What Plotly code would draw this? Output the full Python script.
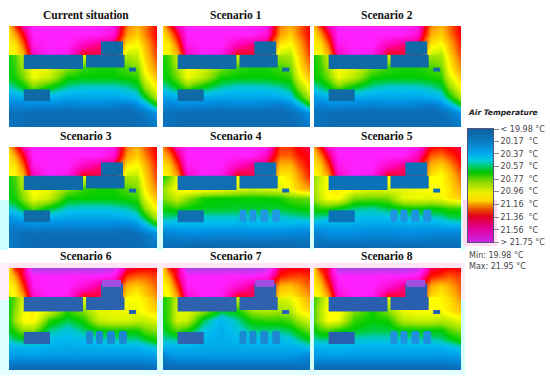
import plotly.graph_objects as go

# Panel grid (site coordinates): columns west-east, rows north-south
GRID_X = [0, 6, 14, 24, 40, 58, 74, 90, 104, 118, 128, 136, 148]
GRID_Y = [0, 8, 18, 28, 29, 42, 52, 62, 72, 80, 88, 102]

current = [
 [21.10,21.30,21.55,21.75,21.75,21.75,21.75,21.75,21.70,21.20,21.10,21.20,21.40],
 [21.00,21.15,21.40,21.75,21.75,21.75,21.75,21.75,21.65,21.15,21.05,21.20,21.40],
 [20.98,21.00,21.25,21.70,21.75,21.75,21.60,21.50,21.45,21.00,20.95,21.10,21.35],
 [20.95,20.97,21.10,21.60,21.75,21.70,21.40,21.45,21.40,20.85,20.85,21.05,21.30],
 [20.62,20.68,20.85,20.90,20.90,20.90,20.90,20.85,20.85,20.80,20.85,21.05,21.30],
 [20.60,20.65,20.78,20.95,20.90,20.75,20.65,20.62,20.62,20.68,20.72,20.98,21.20],
 [20.60,20.62,20.72,20.92,20.85,20.62,20.60,20.60,20.60,20.62,20.65,20.90,21.10],
 [20.48,20.52,20.58,20.72,20.60,20.50,20.47,20.47,20.47,20.50,20.55,20.76,20.98],
 [20.33,20.36,20.40,20.42,20.40,20.36,20.36,20.36,20.36,20.38,20.43,20.58,20.82],
 [20.26,20.24,20.26,20.27,20.27,20.24,20.26,20.26,20.24,20.21,20.27,20.38,20.60],
 [20.15,20.18,20.15,20.12,20.12,20.12,20.12,20.12,20.12,20.12,20.15,20.20,20.30],
 [20.20,20.15,20.12,20.10,20.10,20.10,20.10,20.10,20.10,20.10,20.12,20.15,20.20],
]
scenario_1 = [
 [21.10,21.30,21.55,21.75,21.75,21.75,21.75,21.75,21.70,21.20,21.12,21.22,21.40],
 [21.00,21.15,21.40,21.75,21.75,21.75,21.75,21.75,21.65,21.15,21.05,21.20,21.40],
 [20.98,21.00,21.25,21.70,21.75,21.75,21.58,21.50,21.45,21.00,20.95,21.10,21.35],
 [20.95,20.97,21.10,21.60,21.75,21.70,21.40,21.42,21.40,20.85,20.82,21.05,21.30],
 [20.62,20.68,20.85,20.90,20.90,20.90,20.90,20.85,20.85,20.78,20.80,21.02,21.30],
 [20.60,20.65,20.78,20.95,20.88,20.72,20.65,20.62,20.62,20.66,20.70,20.96,21.20],
 [20.60,20.62,20.72,20.92,20.82,20.62,20.60,20.60,20.60,20.62,20.64,20.88,21.10],
 [20.48,20.52,20.58,20.70,20.58,20.50,20.46,20.46,20.47,20.50,20.55,20.74,20.98],
 [20.33,20.36,20.40,20.42,20.38,20.36,20.36,20.36,20.36,20.38,20.43,20.58,20.82],
 [20.26,20.24,20.26,20.27,20.27,20.24,20.26,20.26,20.24,20.21,20.27,20.38,20.60],
 [20.15,20.18,20.15,20.12,20.12,20.12,20.12,20.12,20.12,20.12,20.15,20.20,20.30],
 [20.20,20.15,20.12,20.10,20.10,20.10,20.10,20.10,20.10,20.10,20.12,20.15,20.20],
]
scenario_2 = [
 [21.10,21.30,21.55,21.75,21.75,21.75,21.75,21.75,21.70,21.18,21.10,21.22,21.42],
 [21.00,21.15,21.40,21.75,21.75,21.75,21.75,21.75,21.65,21.12,21.05,21.20,21.40],
 [20.98,21.00,21.25,21.70,21.75,21.75,21.58,21.50,21.45,21.00,20.95,21.10,21.35],
 [20.95,20.97,21.10,21.60,21.75,21.70,21.40,21.42,21.40,20.85,20.82,21.05,21.30],
 [20.62,20.68,20.85,20.90,20.90,20.90,20.90,20.85,20.85,20.78,20.80,21.02,21.28],
 [20.60,20.65,20.78,20.95,20.88,20.72,20.65,20.62,20.62,20.66,20.70,20.96,21.18],
 [20.60,20.62,20.72,20.92,20.82,20.62,20.60,20.60,20.60,20.62,20.64,20.88,21.08],
 [20.48,20.52,20.58,20.70,20.58,20.50,20.46,20.46,20.47,20.50,20.55,20.74,20.96],
 [20.33,20.36,20.40,20.42,20.38,20.36,20.36,20.36,20.36,20.38,20.43,20.58,20.80],
 [20.26,20.24,20.26,20.27,20.27,20.24,20.26,20.26,20.24,20.21,20.27,20.38,20.58],
 [20.15,20.18,20.15,20.12,20.12,20.12,20.12,20.12,20.12,20.12,20.15,20.20,20.30],
 [20.20,20.15,20.12,20.10,20.10,20.10,20.10,20.10,20.10,20.10,20.12,20.15,20.20],
]
scenario_3 = [
 [21.10,21.30,21.55,21.75,21.75,21.75,21.75,21.75,21.70,21.20,21.10,21.25,21.42],
 [21.00,21.15,21.40,21.75,21.75,21.75,21.75,21.75,21.65,21.15,21.05,21.20,21.40],
 [20.98,21.00,21.25,21.70,21.75,21.75,21.60,21.50,21.45,21.00,20.95,21.10,21.35],
 [20.95,20.97,21.10,21.60,21.75,21.70,21.40,21.45,21.40,20.85,20.85,21.05,21.30],
 [20.62,20.68,20.85,20.90,20.90,20.90,20.90,20.85,20.85,20.80,20.82,21.05,21.30],
 [20.60,20.65,20.80,20.95,20.92,20.75,20.65,20.62,20.62,20.68,20.72,20.98,21.20],
 [20.60,20.62,20.74,20.92,20.85,20.60,20.60,20.60,20.60,20.62,20.65,20.90,21.10],
 [20.46,20.50,20.58,20.70,20.58,20.48,20.46,20.46,20.47,20.50,20.55,20.76,20.98],
 [20.30,20.33,20.38,20.40,20.38,20.35,20.35,20.35,20.35,20.38,20.43,20.56,20.80],
 [20.24,20.22,20.25,20.27,20.26,20.25,20.26,20.26,20.25,20.22,20.28,20.38,20.55],
 [20.18,20.18,20.15,20.13,20.12,20.12,20.12,20.12,20.12,20.12,20.15,20.20,20.28],
 [20.22,20.18,20.12,20.10,20.10,20.10,20.10,20.10,20.10,20.10,20.12,20.15,20.18],
]
scenario_4 = [
 [21.20,21.35,21.60,21.75,21.75,21.75,21.75,21.75,21.70,21.30,21.30,21.40,21.45],
 [21.10,21.20,21.45,21.75,21.75,21.75,21.75,21.75,21.60,21.25,21.25,21.35,21.42],
 [21.00,21.05,21.30,21.70,21.75,21.75,21.60,21.50,21.45,21.10,21.10,21.25,21.40],
 [20.97,21.00,21.15,21.60,21.75,21.70,21.40,21.45,21.40,21.00,21.00,21.15,21.35],
 [20.62,20.70,20.90,20.95,20.95,20.95,20.95,20.92,20.92,20.95,21.00,21.15,21.35],
 [20.75,20.85,20.95,21.00,20.98,20.95,20.90,20.85,20.88,20.90,20.95,21.05,21.15],
 [20.72,20.78,20.85,20.75,20.62,20.60,20.60,20.60,20.60,20.62,20.68,20.70,20.70],
 [20.62,20.62,20.65,20.60,20.58,20.58,20.57,20.57,20.57,20.57,20.58,20.60,20.62],
 [20.50,20.50,20.48,20.47,20.46,20.46,20.46,20.46,20.46,20.46,20.47,20.48,20.50],
 [20.36,20.37,20.38,20.38,20.38,20.38,20.36,20.38,20.38,20.38,20.37,20.36,20.36],
 [20.22,20.24,20.26,20.28,20.27,20.26,20.26,20.27,20.27,20.26,20.26,20.24,20.22],
 [20.15,20.12,20.10,20.08,20.08,20.08,20.08,20.08,20.08,20.08,20.08,20.10,20.14],
]
scenario_5 = [
 [21.15,21.35,21.60,21.75,21.75,21.75,21.75,21.75,21.70,21.38,21.35,21.40,21.45],
 [21.05,21.20,21.45,21.75,21.75,21.75,21.75,21.75,21.60,21.25,21.22,21.30,21.42],
 [21.00,21.05,21.30,21.70,21.75,21.75,21.62,21.50,21.45,21.10,21.05,21.15,21.35],
 [20.95,21.00,21.15,21.60,21.75,21.70,21.40,21.45,21.40,21.00,20.95,21.05,21.25],
 [20.75,20.85,20.95,20.95,20.95,20.95,20.95,20.92,20.92,20.95,20.95,21.05,21.25],
 [20.78,20.88,20.95,21.00,20.95,20.90,20.90,20.90,20.92,20.95,20.95,21.00,21.15],
 [20.75,20.85,20.95,20.95,20.72,20.70,20.72,20.90,20.92,20.90,20.92,21.00,21.05],
 [20.62,20.65,20.65,20.60,20.52,20.50,20.55,20.60,20.62,20.60,20.62,20.65,20.65],
 [20.50,20.48,20.46,20.44,20.42,20.42,20.42,20.45,20.46,20.46,20.48,20.52,20.55],
 [20.35,20.35,20.35,20.36,20.35,20.34,20.34,20.35,20.35,20.35,20.36,20.38,20.38],
 [20.24,20.24,20.28,20.28,20.28,20.26,20.26,20.28,20.28,20.26,20.25,20.24,20.24],
 [20.14,20.12,20.10,20.10,20.10,20.10,20.10,20.10,20.10,20.10,20.10,20.12,20.14],
]
scenario_6 = [
 [21.05,21.35,21.45,21.95,21.95,21.95,21.95,21.95,21.90,21.45,21.40,21.38,21.40],
 [21.00,21.15,21.45,21.75,21.75,21.75,21.75,21.75,21.70,21.30,21.25,21.25,21.30],
 [20.95,21.02,21.30,21.72,21.75,21.75,21.65,21.50,21.50,21.10,21.05,21.12,21.25],
 [20.90,20.96,21.15,21.62,21.75,21.72,21.40,21.45,21.45,21.00,20.95,21.05,21.18],
 [20.62,20.70,20.90,20.95,20.92,20.90,20.92,20.90,20.90,20.95,20.95,21.00,21.15],
 [20.62,20.75,20.92,20.98,20.90,20.65,20.75,20.90,20.92,20.92,20.92,20.98,21.05],
 [20.62,20.78,20.95,20.98,20.65,20.55,20.62,20.85,20.88,20.88,20.85,20.85,20.90],
 [20.58,20.65,20.75,20.75,20.52,20.45,20.52,20.60,20.62,20.62,20.62,20.70,20.75],
 [20.48,20.52,20.55,20.52,20.42,20.40,20.42,20.46,20.48,20.50,20.50,20.55,20.62],
 [20.38,20.38,20.40,20.40,20.38,20.37,20.37,20.38,20.38,20.38,20.38,20.40,20.45],
 [20.33,20.33,20.33,20.33,20.33,20.32,20.32,20.32,20.32,20.32,20.32,20.33,20.33],
 [20.12,20.08,20.08,20.08,20.08,20.08,20.08,20.08,20.08,20.08,20.08,20.10,20.14],
]
scenario_7 = [
 [21.05,21.35,21.45,21.95,21.95,21.95,21.95,21.95,21.90,21.45,21.40,21.40,21.42],
 [21.00,21.15,21.45,21.75,21.75,21.75,21.75,21.75,21.70,21.35,21.30,21.28,21.32],
 [20.95,21.02,21.30,21.72,21.75,21.75,21.65,21.50,21.50,21.10,21.08,21.15,21.25],
 [20.90,20.96,21.15,21.62,21.75,21.72,21.40,21.45,21.45,21.00,20.98,21.05,21.18],
 [20.62,20.68,20.85,20.92,20.90,20.90,20.88,20.85,20.85,20.88,20.92,21.00,21.15],
 [20.62,20.68,20.88,20.92,20.78,20.58,20.62,20.78,20.82,20.78,20.80,20.95,21.05],
 [20.60,20.68,20.88,20.85,20.55,20.40,20.50,20.62,20.65,20.65,20.68,20.78,20.88],
 [20.56,20.62,20.68,20.62,20.45,20.38,20.45,20.52,20.52,20.52,20.55,20.62,20.72],
 [20.48,20.48,20.50,20.48,20.40,20.38,20.40,20.42,20.42,20.42,20.44,20.50,20.58],
 [20.38,20.38,20.38,20.38,20.37,20.37,20.37,20.37,20.37,20.37,20.37,20.38,20.42],
 [20.22,20.30,20.32,20.32,20.32,20.32,20.32,20.32,20.32,20.32,20.32,20.30,20.24],
 [20.12,20.08,20.08,20.08,20.08,20.08,20.08,20.08,20.08,20.08,20.08,20.10,20.14],
]
scenario_8 = [
 [21.05,21.35,21.45,21.95,21.95,21.95,21.95,21.95,21.90,21.45,21.42,21.38,21.40],
 [21.02,21.18,21.45,21.75,21.75,21.75,21.75,21.75,21.70,21.35,21.30,21.25,21.30],
 [20.98,21.05,21.30,21.72,21.75,21.75,21.65,21.50,21.50,21.12,21.05,21.12,21.25],
 [20.92,20.98,21.15,21.62,21.75,21.72,21.40,21.45,21.45,21.02,20.98,21.05,21.20],
 [20.65,20.75,20.92,20.98,20.95,20.92,20.92,20.92,20.92,20.95,20.97,21.02,21.18],
 [20.68,20.82,20.95,20.98,20.75,20.62,20.75,20.92,20.95,20.95,20.95,21.00,21.08],
 [20.68,20.80,20.95,20.92,20.65,20.60,20.62,20.82,20.85,20.85,20.82,20.85,20.92],
 [20.60,20.65,20.68,20.62,20.58,20.55,20.55,20.60,20.60,20.60,20.60,20.68,20.75],
 [20.48,20.50,20.50,20.48,20.46,20.46,20.46,20.46,20.48,20.48,20.50,20.55,20.62],
 [20.38,20.38,20.40,20.40,20.38,20.38,20.38,20.38,20.38,20.38,20.38,20.40,20.45],
 [20.33,20.33,20.33,20.33,20.33,20.33,20.33,20.33,20.33,20.33,20.32,20.33,20.33],
 [20.12,20.08,20.08,20.08,20.08,20.08,20.08,20.08,20.08,20.08,20.08,20.10,20.14],
]

panel_titles = ["Current situation", "Scenario 1", "Scenario 2", "Scenario 3", "Scenario 4",
                "Scenario 5", "Scenario 6", "Scenario 7", "Scenario 8"]
panel_fields = [current, scenario_1, scenario_2, scenario_3, scenario_4,
                scenario_5, scenario_6, scenario_7, scenario_8]

# Footprints in site coordinates: x0, x1, y0, y1
buildings = [(14.7, 74, 29, 43.5), (77, 115.5, 29, 42), (92, 114, 15.5, 29),
             (120, 127, 42, 46), (14.7, 41, 64, 76)]
new_blocks = [(77, 84, 63, 76), (87, 94, 63, 76), (98, 106, 63, 76), (110, 118, 63, 76)]
roof_block = (93, 112, 12, 19)
building_colors = ["#0f6aa5", "#0f6aa5", "#0f6aa5", "#0f6aa8", "#0f6fb2",
                   "#0c72b8", "#2a62ae", "#2f62ae", "#2a5fb0"]
block_colors = [None, None, None, None, "#1e98e2", "#1e94e0", "#1a86d4", "#1a88d2", "#1e90e0"]

legend_ticks = [19.98, 20.17, 20.37, 20.57, 20.77, 20.96, 21.16, 21.36, 21.56, 21.75]
legend_labels = ["< 19.98 °C", "20.17\u00a0\u00a0°C", "20.37\u00a0\u00a0°C", "20.57\u00a0\u00a0°C",
                 "20.77\u00a0\u00a0°C", "20.96\u00a0\u00a0°C", "21.16\u00a0\u00a0°C", "21.36\u00a0\u00a0°C",
                 "21.56\u00a0\u00a0°C", "> 21.75 °C"]

# Layout in page pixels
W, H = 550, 385
col_px = [(9, 157), (163, 310), (314, 461)]
row_px = [(26, 127), (147, 248), (268, 370)]
title_x = [86, 236, 387]
title_y = [15, 136, 256]
cmin, cmax = 19.98, 21.95

# Pale compression halos around the pictures: x0, x1, y0, y1, colour (page pixels)
halos = [(0, 9, 200, 250, "#ccffff"), (157, 163, 200, 250, "#d8ffff"),
         (310, 314, 205, 250, "#d8ffff"), (461, 465, 205, 250, "#d8ffff"),
         (5, 465, 263, 268, "#ffe4f6"), (0, 9, 263, 300, "#fff0fa"), (157, 163, 263, 300, "#ffeef9"),
         (310, 314, 263, 300, "#ffeef9"), (461, 465, 263, 300, "#ffeef9"),
         (0, 9, 300, 375, "#dcffff"), (157, 163, 300, 372, "#d4ffff"),
         (310, 314, 300, 372, "#d4ffff"), (461, 465, 300, 372, "#d4ffff"),
         (0, 465, 370, 375, "#e4ffff"), (463, 497, 200, 246, "#ffdcf2")]


def cs(stops):
    return [[(t - cmin) / (cmax - cmin), c] for t, c in stops]


def rounded(x0, x1, y0, y1, r=2.2):
    return (f"M {x0 + r} {y0} L {x1 - r} {y0} Q {x1} {y0} {x1} {y0 + r} L {x1} {y1 - r} "
            f"Q {x1} {y1} {x1 - r} {y1} L {x0 + r} {y1} Q {x0} {y1} {x0} {y1 - r} "
            f"L {x0} {y0 + r} Q {x0} {y0} {x0 + r} {y0} Z")


panel_scale = cs([(19.98, "#0d5a9c"), (20.17, "#0a72bc"), (20.30, "#0090e4"), (20.42, "#00bcf0"),
                  (20.48, "#00c8c8"), (20.54, "#00cc50"), (20.60, "#00cc00"), (20.75, "#90e000"),
                  (20.95, "#ffff00"), (21.15, "#ffa000"), (21.38, "#ff0000"), (21.55, "#ff00b0"),
                  (21.75, "#ff20ff"), (21.95, "#b040e8")])
legend_scale = [[0.0, "#10609f"], [0.11, "#0a7cc4"], [0.21, "#00a8ee"], [0.27, "#00cce0"],
                [0.32, "#00cc70"], [0.38, "#00c400"], [0.47, "#90d800"], [0.56, "#f0f000"],
                [0.63, "#ffd800"], [0.67, "#f09000"], [0.72, "#e84000"], [0.77, "#e00020"],
                [0.88, "#e000a0"], [1.0, "#c828e8"]]

fig = go.Figure()
shapes, annotations, axes = [], [], {}

for hx0, hx1, hy0, hy1, hc in halos:
    shapes.append(dict(type="rect", xref="paper", yref="paper", x0=hx0 / W, x1=hx1 / W,
                       y0=1 - hy1 / H, y1=1 - hy0 / H, fillcolor=hc, line_width=0, layer="below"))

for i, (field, name) in enumerate(zip(panel_fields, panel_titles)):
    r, c = i // 3, i % 3
    n = i + 1
    sfx = "" if n == 1 else str(n)
    x0, x1 = col_px[c]
    y0, y1 = row_px[r]
    axes["xaxis" + sfx] = dict(domain=[x0 / W, x1 / W], range=[0, 148], visible=False,
                               anchor="y" + sfx, fixedrange=True)
    axes["yaxis" + sfx] = dict(domain=[1 - y1 / H, 1 - y0 / H], range=[102, 0], visible=False,
                               anchor="x" + sfx, fixedrange=True)
    fig.add_trace(go.Heatmap(x=GRID_X, y=GRID_Y, z=field, zmin=cmin, zmax=cmax, zsmooth="best",
                             colorscale=panel_scale, showscale=False, hoverinfo="skip",
                             xaxis="x" + sfx, yaxis="y" + sfx))
    for bx0, bx1, by0, by1 in buildings:
        shapes.append(dict(type="rect", xref="x" + sfx, yref="y" + sfx, x0=bx0, x1=bx1, y0=by0, y1=by1,
                           fillcolor=building_colors[i], line_width=0))
    if block_colors[i]:
        for bx0, bx1, by0, by1 in new_blocks:
            shapes.append(dict(type="path", xref="x" + sfx, yref="y" + sfx, path=rounded(bx0, bx1, by0, by1),
                               fillcolor=block_colors[i], line_width=0))
    if r == 2:
        bx0, bx1, by0, by1 = roof_block
        shapes.append(dict(type="rect", xref="x" + sfx, yref="y" + sfx, x0=bx0, x1=bx1, y0=by0, y1=by1,
                           fillcolor="#a050e0", line_width=0))
    annotations.append(dict(text="<b>%s</b>" % name, xref="paper", yref="paper", x=title_x[c] / W,
                            y=1 - title_y[r] / H, xanchor="center", yanchor="middle", showarrow=False,
                            font=dict(family="Liberation Serif", size=11.5, color="#111111")))

# Temperature legend: a heatmap on its own axis, low values on top
fig.add_trace(go.Heatmap(x=[0, 1], y=legend_ticks, z=[[t, t] for t in legend_ticks],
                         zmin=19.98, zmax=21.75, zsmooth="best", colorscale=legend_scale,
                         showscale=False, hoverinfo="skip", xaxis="x10", yaxis="y10"))
axes["xaxis10"] = dict(domain=[468 / W, 493 / W], range=[0, 1], anchor="y10", showticklabels=False,
                       ticks="", showgrid=False, zeroline=False, showline=True, mirror=True,
                       linecolor="#55557a", linewidth=1, fixedrange=True)
axes["yaxis10"] = dict(domain=[1 - 242 / H, 1 - 129 / H], range=[21.75, 19.98], anchor="x10", side="right",
                       tickvals=legend_ticks, ticktext=legend_labels, ticks="outside", ticklen=5,
                       tickcolor="#888888", tickwidth=1, showgrid=False, zeroline=False, showline=True,
                       mirror=True, linecolor="#55557a", linewidth=1, fixedrange=True,
                       tickfont=dict(family="DejaVu Sans", size=8, color="#444444"))

annotations.append(dict(text="<b><i>Air Temperature</i></b>", xref="paper", yref="paper", x=466 / W,
                        y=1 - 112 / H, xanchor="left", yanchor="middle", showarrow=False,
                        font=dict(family="DejaVu Sans", size=7.5, color="#222222")))
annotations.append(dict(text="Min: 19.98 °C", xref="paper", yref="paper", x=467 / W, y=1 - 255.5 / H,
                        xanchor="left", yanchor="middle", showarrow=False,
                        font=dict(family="DejaVu Sans", size=8, color="#444444")))
annotations.append(dict(text="Max: 21.95 °C", xref="paper", yref="paper", x=467 / W, y=1 - 266 / H,
                        xanchor="left", yanchor="middle", showarrow=False,
                        font=dict(family="DejaVu Sans", size=8, color="#444444")))

fig.update_layout(width=W, height=H, margin=dict(l=0, r=0, t=0, b=0, pad=0, autoexpand=False),
                  paper_bgcolor="white", plot_bgcolor="white", showlegend=False, shapes=shapes,
                  annotations=annotations, **axes)
fig.write_html("out.html", config={"displayModeBar": False},
               post_script="document.body.style.margin='0';document.body.style.overflow='hidden';")
